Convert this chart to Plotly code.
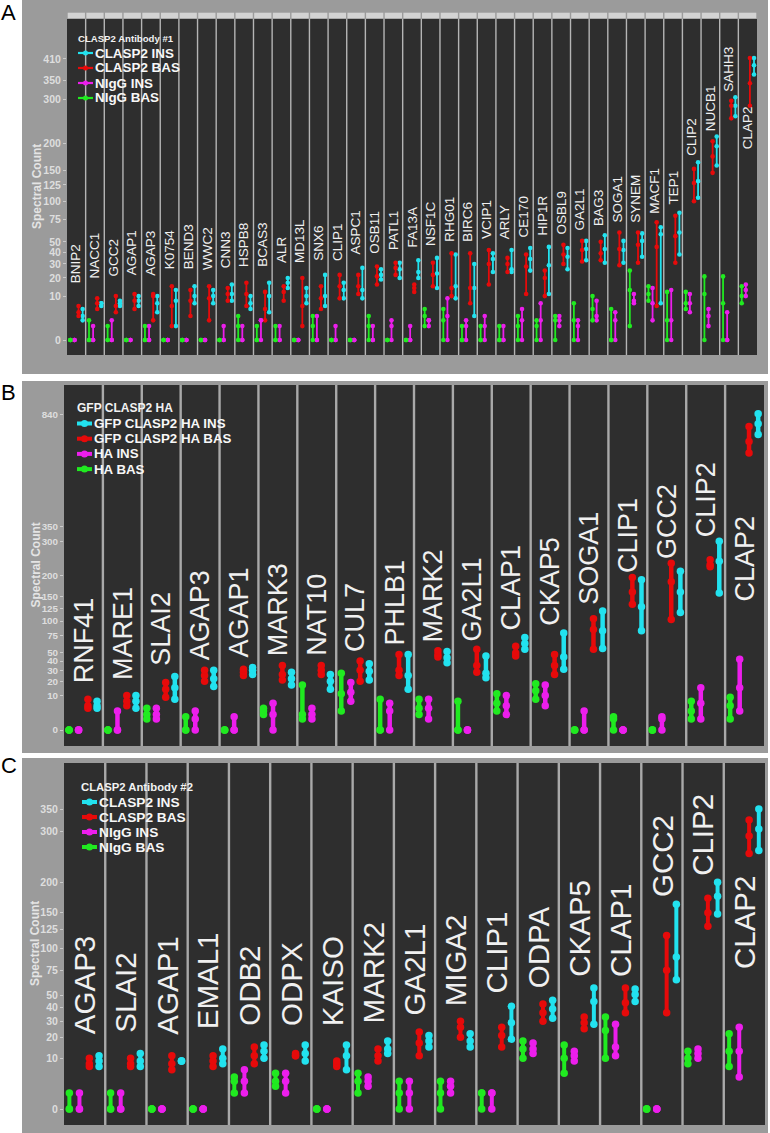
import math
import plotly.graph_objects as go

# ------------------------------------------------------------------ data
# Panel A  (CLASP2 Antibody #1) - three replicate spectral counts per cell
A_proteins = ["BNIP2", "NACC1", "GCC2", "AGAP1", "AGAP3", "K0754", "BEND3", "WWC2", "CNN3",
              "HSPB8", "BCAS3", "ALR", "MD13L", "SNX6", "CLIP1", "ASPC1", "OSB11", "PATL1",
              "FA13A", "NSF1C", "RHG01", "BIRC6", "VCIP1", "ARLY", "CE170", "HIP1R", "OSBL9",
              "GA2L1", "BAG3", "SOGA1", "SYNEM", "MACF1", "TEP1", "CLIP2", "NUCB1", "SAHH3", "CLAP2"]
A_nigg_bas = [[0, 0, 0], [0, 0, 2], [0, 0, 1], [0, 0, 0], [0, 0, 1], [0, 0, 0], [0, 0, 0], [0, 0, 0],
              [0, 0, 0], [0, 1, 3], [0, 0, 1], [0, 0, 1], [0, 0, 0], [0, 1, 3], [0, 0, 0], [0, 0, 0],
              [0, 1, 3], [0, 0, 0], [0, 0, 0], [1, 3, 5], [0, 2, 5], [0, 0, 1], [0, 0, 1], [0, 0, 1],
              [0, 1, 3], [0, 1, 2], [0, 2, 3], [0, 2, 7], [2, 5, 10], [0, 0, 5], [1, 13, 25],
              [8, 11, 15], [0, 2, 12], [5, 7, 12], [0, 11, 21], [0, 7, 21], [7, 10, 15]]
A_nigg_ins = [[0, 0, 0], [0, 0, 1], [0, 0, 2], [0, 0, 0], [0, 0, 1], [0, 0, 0], [0, 0, 0], [0, 0, 0],
              [0, 0, 1], [0, 0, 1], [0, 2, 2], [0, 0, 1], [0, 0, 0], [0, 0, 3], [0, 0, 1], [0, 0, 0],
              [0, 0, 1], [0, 1, 2], [0, 0, 1], [1, 2, 2], [0, 3, 9], [0, 1, 2], [0, 1, 3], [0, 0, 1],
              [0, 2, 5], [0, 2, 7], [1, 2, 3], [0, 1, 2], [2, 3, 8], [0, 2, 4], [7, 8, 11],
              [2, 7, 14], [0, 2, 13], [4, 7, 11], [1, 3, 5], [0, 0, 4], [10, 13, 16]]
A_clasp2_bas = [[3, 4, 6], [5, 7, 9], [4, 6, 10], [5, 8, 11], [2, 10, 11], [1, 6, 15], [3, 8, 13],
                [2, 9, 15], [8, 11, 14], [6, 11, 17], [2, 5, 12], [8, 12, 15], [1, 6, 20], [5, 9, 15],
                [9, 15, 22], [11, 15, 22], [16, 21, 28], [22, 27, 31], [12, 14, 16], [15, 22, 31],
                [10, 14, 39], [7, 14, 39], [16, 30, 42], [24, 30, 35], [11, 28, 38], [10, 20, 25],
                [30, 38, 47], [32, 42, 51], [33, 39, 50], [29, 43, 60], [31, 47, 60], [6, 45, 72],
                [31, 56, 80], [100, 128, 152], [145, 175, 205], [255, 285, 297], [285, 342, 413]]
A_clasp2_ins = [[2, 3, 5], [6, 7, 7], [6, 7, 8], [6, 8, 10], [4, 7, 10], [1, 8, 13], [7, 10, 15],
                [7, 10, 13], [8, 11, 16], [5, 7, 10], [4, 10, 17], [14, 17, 20], [7, 10, 14],
                [6, 10, 22], [9, 13, 17], [9, 13, 27], [19, 22, 26], [20, 26, 31], [20, 24, 33],
                [14, 23, 35], [9, 15, 38], [3, 14, 30], [24, 34, 39], [24, 26, 42], [25, 34, 44],
                [11, 29, 45], [26, 36, 44], [33, 43, 51], [31, 43, 57], [31, 42, 51], [36, 51, 59],
                [7, 58, 66], [38, 60, 84], [105, 131, 164], [158, 195, 215], [260, 285, 306],
                [366, 392, 413]]
A_series_names = ["CLASP2 INS", "CLASP2 BAS", "NIgG INS", "NIgG BAS"]
A_legend_title = "CLASP2 Antibody #1"
A_tick_values = [0, 10, 20, 30, 40, 50, 75, 100, 125, 150, 200, 300, 350, 410]
A_label_base = {"CLAP2": 187}

# Panel B  (GFP CLASP2 HA)
B_proteins = ["RNF41", "MARE1", "SLAI2", "AGAP3", "AGAP1", "MARK3", "NAT10", "CUL7", "PHLB1",
              "MARK2", "GA2L1", "CLAP1", "CKAP5", "SOGA1", "CLIP1", "GCC2", "CLIP2", "CLAP2"]
B_ha_bas = [[0, 0, 0], [0, 0, 0], [1, 2, 4], [0, 0, 1.5], [0, 0, 0], [2, 3, 4], [1, 2, 17], [3, 11, 27],
            [0, 0, 8], [2, 4, 8], [0, 0, 7], [3, 6, 11], [8, 13, 18], [0, 0, 0], [0, 1, 1.5],
            [0, 0, 0], [1, 3, 7], [1, 5, 9]]
B_ha_ins = [[0, 0, 0], [0, 0, 3], [1, 2, 4], [0, 1, 3], [0, 0, 1.5], [0, 2, 6], [1, 2, 4], [7, 12, 19],
            [0, 3, 6], [1, 4, 8], [0, 0, 0], [2, 5, 10], [5, 10, 17], [0, 0, 3], [0, 0, 0],
            [0, 1, 1.5], [1, 6, 15], [3, 15, 42]]
B_gfp_bas = [[4, 5, 8], [5, 7, 10], [9, 14, 19], [20, 25, 30], [25, 28, 31], [21, 26, 35],
             [26, 30, 35], [20, 30, 40], [25, 30, 48], [45, 48, 53], [28, 35, 55], [46, 50, 59],
             [26, 35, 48], [55, 85, 104], [133, 160, 196], [103, 185, 234], [224, 230, 244],
             [646, 700, 775]]
B_gfp_ins = [[4, 5, 7], [4, 7, 10], [8, 15, 24], [16, 22, 30], [26, 30, 33], [17, 22, 28],
             [14, 20, 26], [21, 29, 37], [14, 25, 48], [38, 44, 52], [23, 27, 46], [55, 63, 72],
             [31, 45, 79], [56, 83, 119], [83, 128, 190], [116, 160, 212], [158, 240, 300],
             [735, 790, 842]]
B_series_names = ["GFP CLASP2 HA INS", "GFP CLASP2 HA BAS", "HA INS", "HA BAS"]
B_legend_title = "GFP CLASP2 HA"
B_tick_values = [0, 10, 20, 30, 40, 50, 75, 100, 125, 150, 200, 300, 350, 840]
B_label_base = {"CLAP2": 136}

# Panel C  (CLASP2 Antibody #2)
C_proteins = ["AGAP3", "SLAI2", "AGAP1", "EMAL1", "ODB2", "ODPX", "KAISO", "MARK2", "GA2L1",
              "MIGA2", "CLIP1", "ODPA", "CKAP5", "CLAP1", "GCC2", "CLIP2", "CLAP2"]
C_nigg_bas = [[0, 0, 1], [0, 0, 1], [0, 0, 0], [0, 0, 0], [1, 3, 4], [2, 3, 5], [0, 0, 0], [1, 3, 5],
              [0, 1, 3], [0, 1, 3], [0, 1, 1], [10, 14, 18], [5, 10, 16], [10, 24, 33], [0, 0, 0],
              [8, 10, 13], [7, 13, 22]]
C_nigg_ins = [[0, 0, 1], [0, 0, 1], [0, 0, 0], [0, 0, 0], [1, 3, 6], [1, 3, 5], [0, 0, 0], [2, 3, 4],
              [0, 1, 3], [1, 2, 3], [0, 1, 1], [12, 14, 17], [9, 11, 13], [11, 15, 28], [0, 0, 0],
              [10, 12, 14], [4, 13, 26]]
C_clasp2_bas = [[7, 8, 10], [7, 8, 10], [6, 8, 11], [7, 9, 11], [8, 11, 15], [11, 11, 12], [7, 8, 9],
                [9, 11, 14], [11, 17, 23], [20, 26, 30], [15, 21, 26], [30, 36, 43], [25, 29, 33],
                [36, 44, 57], [36, 75, 117], [130, 150, 173], [254, 290, 325]]
C_clasp2_ins = [[7, 9, 11], [7, 9, 12], [9, 9, 9], [8, 10, 14], [10, 13, 16], [9, 12, 16], [6, 11, 16],
                [12, 14, 18], [15, 18, 21], [15, 18, 22], [19, 29, 41], [32, 39, 46], [28, 45, 57],
                [45, 51, 56], [65, 90, 163], [148, 176, 200], [260, 305, 350]]
C_series_names = ["CLASP2 INS", "CLASP2 BAS", "NIgG INS", "NIgG BAS"]
C_legend_title = "CLASP2 Antibody #2"
C_tick_values = [0, 10, 20, 30, 40, 50, 75, 100, 125, 150, 200, 300, 350]
C_label_base = {"CLAP2": 75}

LABEL_PAD = 10          # labels sit this many counts above a protein's highest value
SERIES_COLORS = ["#22e2ef", "#e60a0a", "#ec1eec", "#20ea20"]   # INS, BAS, ctrl INS, ctrl BAS
DODGE_ORDER = [3, 2, 1, 0]   # left-to-right slot of each series inside a facet

# ------------------------------------------------------------------ styling / layout
W, H = 770, 1133
FONT = "Liberation Sans, Arial, Helvetica, sans-serif"
OUTER_GRAY = "#9b9b9b"
PANEL_DARK = "#2e2e2e"

panels = [
    dict(letter="A", proteins=A_proteins, title=A_legend_title, names=A_series_names,
         values=[A_clasp2_ins, A_clasp2_bas, A_nigg_ins, A_nigg_bas], ticks=A_tick_values,
         label_base=A_label_base,
         bg=(22, 0, 768, 374), xdom=(67, 757), ydom=(19, 355), zero=340, unit=13.88,
         strip=(12.7, 18.3), sep_w=1.4, sep_c="#b5b5b5", letter_y=13, tick_size=10.5,
         slots=[0.18, 0.40, 0.62, 0.84], msize=4.6, lw=1.8, label_size=13.5,
         leg=dict(tx=77, ty=38, tsize=9.6, x0=78, x1=93, txt=94, y0=53, dy=15, size=13.4,
                  ms=5, lw=2.2), ytitle_x=37),
    dict(letter="B", proteins=B_proteins, title=B_legend_title, names=B_series_names,
         values=[B_gfp_ins, B_gfp_bas, B_ha_ins, B_ha_bas], ticks=B_tick_values,
         label_base=B_label_base,
         bg=(22, 381, 768, 753), xdom=(64, 764), ydom=(385, 746), zero=730, unit=10.9,
         strip=None, sep_w=2.4, sep_c="#a9a9a9", letter_y=392, tick_size=9.8,
         slots=[0.13, 0.375, 0.615, 0.85], msize=7.5, lw=4.5, label_size=27,
         leg=dict(tx=76, ty=408, tsize=12, x0=77, x1=92, txt=93, y0=423.5, dy=15.2, size=13.3,
                  ms=7, lw=4), ytitle_x=35),
    dict(letter="C", proteins=C_proteins, title=C_legend_title, names=C_series_names,
         values=[C_clasp2_ins, C_clasp2_bas, C_nigg_ins, C_nigg_bas], ticks=C_tick_values,
         label_base=C_label_base,
         bg=(22, 758, 768, 1133), xdom=(64, 765), ydom=(763, 1125), zero=1109, unit=16.03,
         strip=None, sep_w=2.4, sep_c="#a9a9a9", letter_y=765, tick_size=10.5,
         slots=[0.13, 0.375, 0.615, 0.85], msize=7.5, lw=4, label_size=29.5,
         leg=dict(tx=80, ty=787, tsize=11.3, x0=82, x1=97, txt=98, y0=802, dy=15, size=13.7,
                  ms=7, lw=4), ytitle_x=35),
]


def X(px):
    return px / W


def Y(py):
    return 1 - py / H


def tr(v):
    return math.sqrt(v)


fig = go.Figure()
shapes = []
annotations = []

for k, P in enumerate(panels):
    ax = "" if k == 0 else str(k + 1)
    N = len(P["proteins"])
    x0p, x1p = P["xdom"]
    y0p, y1p = P["ydom"]
    fw = (x1p - x0p) / N

    # panel frame + dark plotting area
    bx0, by0, bx1, by1 = P["bg"]
    shapes.append(dict(type="rect", xref="paper", yref="paper", x0=X(bx0), x1=X(bx1),
                       y0=Y(by1), y1=Y(by0), fillcolor=OUTER_GRAY, line=dict(width=0), layer="below"))
    shapes.append(dict(type="rect", xref="paper", yref="paper", x0=X(x0p), x1=X(x1p),
                       y0=Y(y1p), y1=Y(y0p), fillcolor=PANEL_DARK, line=dict(width=0), layer="below"))
    if P["strip"]:
        s0, s1 = P["strip"]
        for i in range(N):
            shapes.append(dict(type="rect", xref="paper", yref="paper",
                               x0=X(x0p + i * fw + 0.7), x1=X(x0p + (i + 1) * fw - 0.7),
                               y0=Y(s1), y1=Y(s0), fillcolor="#d3d3d3", line=dict(width=0),
                               layer="below"))
    for i in range(1, N):
        xs = X(x0p + i * fw)
        shapes.append(dict(type="line", xref="paper", yref="paper", x0=xs, x1=xs,
                           y0=Y(y1p), y1=Y(y0p), line=dict(color=P["sep_c"], width=P["sep_w"]),
                           layer="below"))

    lo = -(y1p - P["zero"]) / P["unit"]
    hi = (P["zero"] - y0p) / P["unit"]
    fig.update_layout({
        f"xaxis{ax}": dict(domain=[X(x0p), X(x1p)], range=[0, N], visible=False,
                           anchor=f"y{ax}", fixedrange=True),
        f"yaxis{ax}": dict(domain=[Y(y1p), Y(y0p)], range=[lo, hi], anchor=f"x{ax}",
                           tickvals=[tr(v) for v in P["ticks"]],
                           ticktext=[str(v) for v in P["ticks"]],
                           ticks="outside", ticklen=3, tickwidth=1, tickcolor="#c9c9c9",
                           tickfont=dict(family=FONT, size=P["tick_size"], color="#dedede",
                                         weight="bold"),
                           showgrid=False, zeroline=False, showline=False, fixedrange=True),
    })

    # range bars with replicate dots
    for s, vals in enumerate(P["values"]):
        slot = P["slots"][DODGE_ORDER[s]]
        xs, ys = [], []
        for i, trip in enumerate(vals):
            for v in sorted(trip):
                xs.append(i + slot)
                ys.append(tr(v))
            xs.append(None)
            ys.append(None)
        fig.add_trace(go.Scatter(
            x=xs, y=ys, mode="lines+markers", name=P["names"][s], showlegend=False,
            xaxis=f"x{ax}", yaxis=f"y{ax}", connectgaps=False,
            line=dict(color=SERIES_COLORS[s], width=P["lw"]),
            marker=dict(color=SERIES_COLORS[s], size=P["msize"]),
            hoverinfo="skip"))

    # protein labels
    for i, name in enumerate(P["proteins"]):
        top = max(max(v[i]) for v in P["values"])
        base = P["label_base"].get(name, top + LABEL_PAD)
        annotations.append(dict(x=i + 0.5, y=tr(base), xref=f"x{ax}", yref=f"y{ax}",
                                text=name, showarrow=False, textangle=-90,
                                xanchor="center", yanchor="bottom", borderpad=0,
                                font=dict(family=FONT, size=P["label_size"], color="#f0f0f0")))

    # y title
    annotations.append(dict(x=X(P["ytitle_x"]), y=Y((y0p + y1p) / 2), xref="paper", yref="paper",
                            text="Spectral Count", showarrow=False, textangle=-90,
                            xanchor="center", yanchor="middle",
                            font=dict(family=FONT, size=12, color="#e4e4e4", weight="bold")))
    # panel letter
    annotations.append(dict(x=X(0), y=Y(P["letter_y"]), xref="paper", yref="paper",
                            text=P["letter"], showarrow=False, xanchor="left", yanchor="middle",
                            borderpad=0, font=dict(family=FONT, size=22, color="black")))

    # legend (drawn manually to match the compact key)
    L = P["leg"]
    annotations.append(dict(x=X(L["tx"]), y=Y(L["ty"]), xref="paper", yref="paper",
                            text=P["title"], showarrow=False, xanchor="left", yanchor="middle",
                            borderpad=0,
                            font=dict(family=FONT, size=L["tsize"], color="#f2f2f2", weight="bold")))
    for s in range(4):
        yy = L["y0"] + s * L["dy"]
        c = SERIES_COLORS[s]
        shapes.append(dict(type="line", xref="paper", yref="paper", x0=X(L["x0"]), x1=X(L["x1"]),
                           y0=Y(yy), y1=Y(yy), line=dict(color=c, width=L["lw"]), layer="above"))
        cx = (L["x0"] + L["x1"]) / 2
        r = L["ms"] / 2
        shapes.append(dict(type="circle", xref="paper", yref="paper", x0=X(cx - r), x1=X(cx + r),
                           y0=Y(yy + r), y1=Y(yy - r), fillcolor=c, line=dict(width=0),
                           layer="above"))
        annotations.append(dict(x=X(L["txt"]), y=Y(yy), xref="paper", yref="paper",
                                text=P["names"][s], showarrow=False, xanchor="left",
                                yanchor="middle", borderpad=0,
                                font=dict(family=FONT, size=L["size"], color="#f7f7f7",
                                          weight="bold")))

fig.update_layout(width=W, height=H, margin=dict(l=0, r=0, t=0, b=0),
                  paper_bgcolor="white", plot_bgcolor="rgba(0,0,0,0)",
                  showlegend=False, shapes=shapes, annotations=annotations,
                  font=dict(family=FONT))
fig.write_html("out.html", config={"displayModeBar": False, "staticPlot": True},
               post_script="document.body.style.margin='0';document.body.style.overflow='hidden';")
